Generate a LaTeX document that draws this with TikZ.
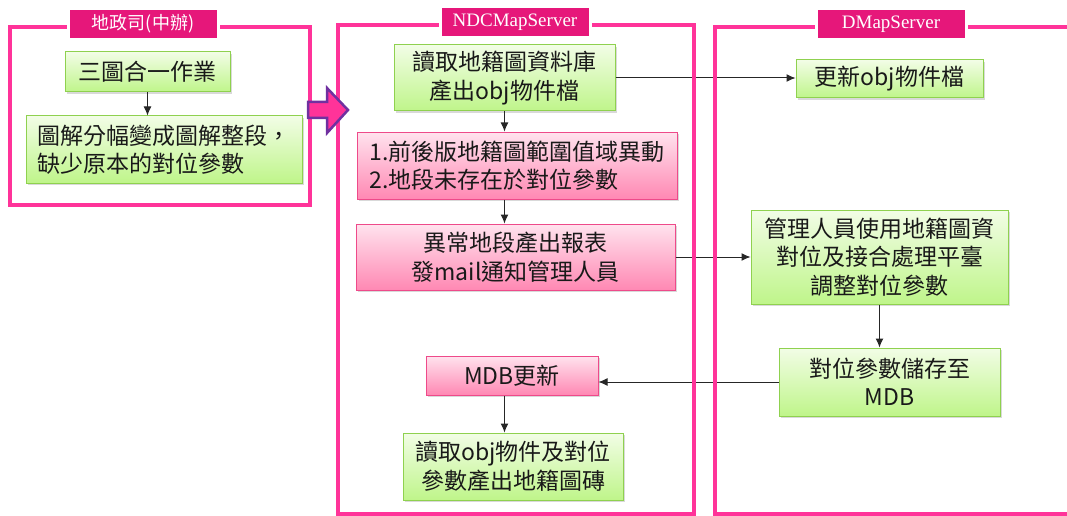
\documentclass[tikz,border=0pt]{standalone}
\usepackage{fontspec}
\setmainfont{Noto Sans CJK TC}
\newfontfamily\serifname{Liberation Serif}
\usepackage{tikz}
\usetikzlibrary{shapes,arrows,positioning,calc,shadows,arrows.meta}

\definecolor{lanepink}{HTML}{FF3399}
\definecolor{tagred}{HTML}{E6177A}
\definecolor{greenedge}{HTML}{8FD14F}
\definecolor{greentop}{HTML}{F2FDE6}
\definecolor{greenbot}{HTML}{BFF58A}
\definecolor{pinkedge}{HTML}{EE4A8A}
\definecolor{pinktop}{HTML}{FFE3EE}
\definecolor{pinkbot}{HTML}{FF88B3}
\definecolor{arrowpurple}{HTML}{7030A0}

\tikzset{
  lane/.style={draw=lanepink, line width=4pt},
  tagbox/.style={fill=tagred, draw=white, line width=3pt, text=white, minimum width=150pt, minimum height=31pt, inner sep=0pt,
    drop shadow={shadow xshift=1.5pt, shadow yshift=-2pt, opacity=0.35}},
  box/.style={line width=1pt, inner sep=2pt, text=black!90, font=\fontsize{23}{28.5}\selectfont,
    drop shadow={shadow xshift=2pt, shadow yshift=-2pt, opacity=0.3}},
  greenbox/.style={box, draw=greenedge, top color=greentop, bottom color=greenbot},
  pinkbox/.style={box, draw=pinkedge, top color=pinktop, bottom color=pinkbot},
  flow/.style={-{Latex[length=9pt,width=8pt]}, line width=1pt, draw=black!85},
}

\begin{document}
\begin{tikzpicture}[x=1pt, y=-1pt]
    \useasboundingbox (0,0) rectangle (1067,516);

    % 地政司
    \node [greenbox, minimum width=165pt, minimum height=40pt] (merge) at (147.5,72) {三圖合一作業};
    \node [greenbox, minimum width=276pt, minimum height=67pt, align=left] (split) at (164,149.5) {圖解分幅變成圖解整段，\\缺少原本的對位參數};

    % NDCMapServer
    \node [greenbox, minimum width=221pt, minimum height=66pt, align=center] (readdb) at (504.5,78) {讀取地籍圖資料庫\\產出obj物件檔};
    \node [pinkbox, minimum width=320pt, minimum height=67pt, align=left] (check) at (517,165.5) {1.前後版地籍圖範圍值域異動\\2.地段未存在於對位參數};
    \node [pinkbox, minimum width=319pt, minimum height=66pt, align=center] (report) at (515.5,257) {異常地段產出報表\\發mail通知管理人員};
    \node [pinkbox, minimum width=172pt, minimum height=39pt] (mdbup) at (512,375.5) {MDB更新};
    \node [greenbox, minimum width=220pt, minimum height=67pt, align=center] (tiles) at (513,466.5) {讀取obj物件及對位\\參數產出地籍圖磚};

    % DMapServer
    \node [greenbox, minimum width=187pt, minimum height=38pt] (objup) at (889.5,79) {更新obj物件檔};
    \node [greenbox, minimum width=257pt, minimum height=94pt, align=center] (adjust) at (879.5,257) {管理人員使用地籍圖資\\對位及接合處理平臺\\調整對位參數};
    \node [greenbox, minimum width=221pt, minimum height=68pt, align=center] (store) at (889.5,382) {對位參數儲存至\\MDB};

    \draw [flow] (merge.south) -- (merge.south |- split.north);
    \draw [flow] (readdb.south) -- (readdb.south |- check.north);
    \draw [flow] (check.south -| readdb.south) -- (readdb.south |- report.north);
    \draw [flow] (readdb.east) -- (readdb.east -| objup.west);
    \draw [flow] (report.east) -- (adjust.west);
    \draw [flow] (adjust.south) -- (adjust.south |- store.north);
    \draw [flow] (store.west) -- (store.west -| mdbup.east);
    \draw [flow] (mdbup.south -| readdb.south) -- (readdb.south |- tiles.north);

    % lanes
    \draw [lane] (10,27) rectangle (310,205);
    \draw [lane] (338,25) rectangle (694,514);
    \draw [lane] (1080,27) -- (715,27) -- (715,514) -- (1080,514);

    % hand-over arrow
    \filldraw [fill=lanepink, draw=arrowpurple, line width=2.5pt, line join=miter]
      (308,102) -- (327,102) -- (327,88) -- (348,110) -- (327,133) -- (327,118) -- (308,118) -- cycle;

    \node [tagbox] (dept) at (143,24) {\fontsize{18}{18}\selectfont 地政司(中辦)};
    \node [tagbox] (ndc) at (515,22) {\serifname\fontsize{19}{19}\selectfont NDCMapServer};
    \node [tagbox] (dmap) at (891,24) {\serifname\fontsize{19}{19}\selectfont DMapServer};
\end{tikzpicture}
\end{document}
